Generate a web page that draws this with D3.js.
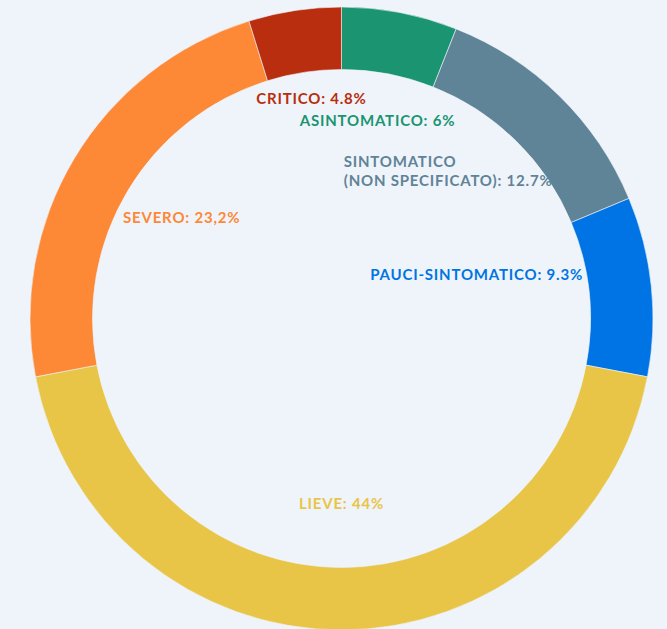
<!DOCTYPE html>
<html>
<head>
<meta charset="utf-8">
<script src="https://cdn.jsdelivr.net/npm/d3@7"></script>
<style>
  html, body { margin: 0; padding: 0; background: #eff4fa; }
  svg { display: block; }
</style>
</head>
<body>
<svg id="chart"></svg>
<script>
// Donut chart: distribution of cases by clinical state

const categories = ["ASINTOMATICO", "SINTOMATICO (NON SPECIFICATO)", "PAUCI-SINTOMATICO", "LIEVE", "SEVERO", "CRITICO"];
const values = [6, 12.7, 9.3, 44, 23.2, 4.8];
const valueLabels = ["6%", "12.7%", "9.3%", "44%", "23,2%", "4.8%"];
const colors = ["#1b9571", "#5f8397", "#0074e4", "#e8c547", "#fd8836", "#b82e0e"];

// label placement, relative to the donut centre
const labelLayout = [
  { dx: 36, dy: -192.5, anchor: "middle" },
  { dx: 211, dy: -151.5, anchor: "end", lines: ["SINTOMATICO", "(NON SPECIFICATO): 12.7%"] },
  { dx: 241.5, dy: -38.5, anchor: "end" },
  { dx: 0, dy: 190.5, anchor: "middle" },
  { dx: -218.5, dy: -95.5, anchor: "start" },
  { dx: -30, dy: -214.5, anchor: "middle" }
];

const width = 667, height = 629;
const cx = 341.5, cy = 318.5;
const outerR = 311.5, innerR = 249;

const svg = d3.select("#chart")
  .attr("width", width)
  .attr("height", height);

const data = categories.map((c, i) => ({ name: c, value: values[i], label: valueLabels[i], color: colors[i], layout: labelLayout[i] }));

const pie = d3.pie()
  .sort(null)
  .value(d => d.value);

const arc = d3.arc()
  .innerRadius(innerR)
  .outerRadius(outerR);

const g = svg.append("g")
  .attr("transform", `translate(${cx},${cy})`);

g.selectAll("path")
  .data(pie(data))
  .join("path")
  .attr("d", arc)
  .attr("fill", d => d.data.color)
  .attr("stroke", "#eff4fa")
  .attr("stroke-width", 0.6);

// Labels
const labels = g.selectAll("text.lbl")
  .data(data)
  .join("text")
  .attr("class", "lbl")
  .attr("x", d => d.layout.dx)
  .attr("y", d => d.layout.dy)
  .attr("text-anchor", d => d.layout.anchor)
  .attr("fill", d => d.color)
  .style("font-family", "Lato, 'Open Sans', sans-serif")
  .style("font-weight", "bold")
  .style("font-size", "15px")
  .style("letter-spacing", "0.8px");

labels.each(function(d) {
  const t = d3.select(this);
  if (d.layout.lines) {
    d.layout.lines.forEach((line, i) => {
      t.append("tspan")
        .attr("x", d.layout.dx)
        .attr("dy", i === 0 ? 0 : 19)
        .text(line);
    });
  } else {
    t.text(`${d.name}: ${d.label}`);
  }
});

// first line of the two-line label is left-aligned with the second line
labels.filter(d => d.layout.lines).each(function() {
  const spans = d3.select(this).selectAll("tspan").nodes();
  const w = spans[1].getComputedTextLength();
  d3.select(spans[0])
    .attr("text-anchor", "start")
    .attr("x", +d3.select(spans[1]).attr("x") - w);
});
</script>
</body>
</html>
